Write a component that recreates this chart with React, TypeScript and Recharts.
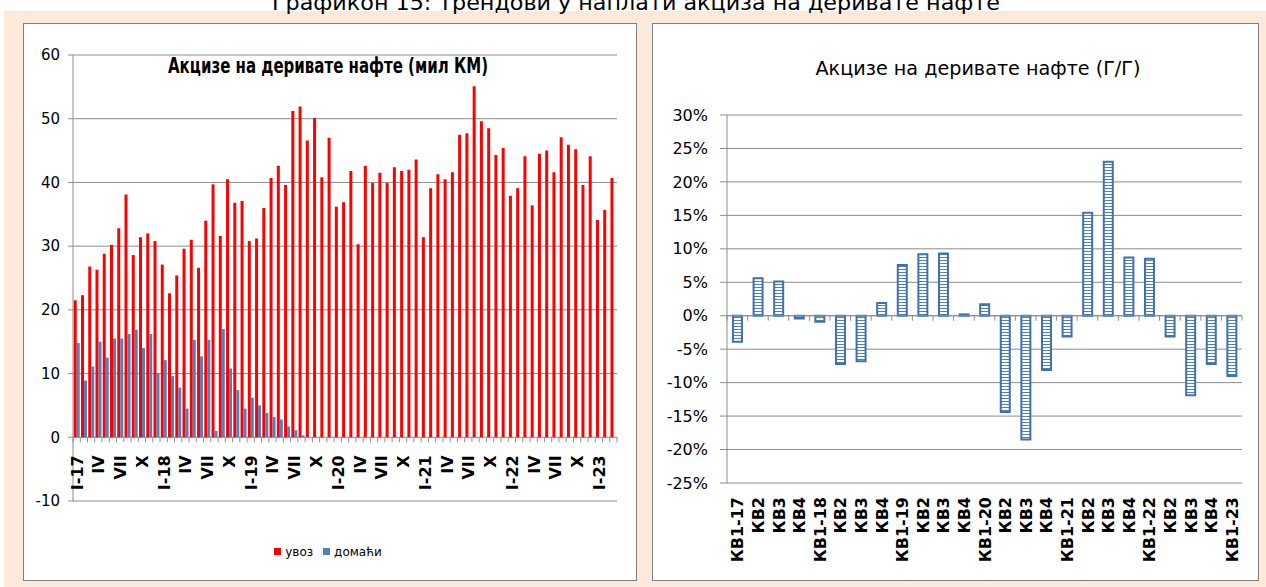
import React from 'react';
import { BarChart, Bar, XAxis, YAxis, CartesianGrid, Legend, ReferenceLine } from 'recharts';

// ---------- data ----------
const ROMAN = ['I', 'II', 'III', 'IV', 'V', 'VI', 'VII', 'VIII', 'IX', 'X', 'XI', 'XII'];
const YEARS = ['17', '18', '19', '20', '21', '22', '23'];
const monthKeys = YEARS.flatMap((y) => ROMAN.map((r) => `${r}-${y}`)).slice(0, 75);
const monthLabels = monthKeys.map((k) => (k.startsWith('I-') ? k : k.split('-')[0]));

// import excise (mil KM)
const uvoz = [
  21.5, 22.3, 26.8, 26.3, 28.8, 30.2, 32.8, 38.1, 28.6, 31.4, 32.0, 30.8,
  27.1, 22.6, 25.4, 29.6, 31.0, 26.6, 34.0, 39.7, 31.6, 40.5, 36.8, 37.1,
  30.8, 31.2, 36.0, 40.7, 42.6, 39.6, 51.2, 51.9, 46.6, 50.1, 40.8, 47.0,
  36.2, 36.9, 41.8, 30.3, 42.6, 39.9, 41.5, 39.9, 42.4, 41.8, 42.0, 43.6,
  31.4, 39.1, 41.3, 40.5, 41.6, 47.5, 47.7, 55.1, 49.6, 48.5, 44.3, 45.4,
  37.9, 39.1, 44.1, 36.4, 44.5, 45.0, 41.6, 47.1, 45.9, 45.2, 39.6, 44.1,
  34.1, 35.7, 40.7,
];
// domestic excise (mil KM)
const domaci = [
  14.8, 8.9, 11.1, 15.0, 12.5, 15.5, 15.5, 16.2, 16.9, 14.0, 16.2, 10.1,
  12.1, 9.6, 7.8, 4.5, 15.3, 12.7, 15.3, 1.0, 17.0, 10.8, 7.4, 4.5,
  6.2, 5.0, 3.8, 3.2, 2.8, 1.7, 1.1, 0.3, 0, 0, 0, 0,
  0, 0, 0, 0, 0, 0, 0, 0, 0, 0, 0, 0,
  0, 0, 0, 0, 0, 0, 0, 0, 0, 0, 0, 0,
  0, 0, 0, 0, 0, 0, 0, 0, 0, 0, 0, 0,
  0, 0, 0,
];
const leftTicks = [-10, 0, 10, 20, 30, 40, 50, 60];

const quarterKeys = YEARS.flatMap((y) => [1, 2, 3, 4].map((q) => `КВ${q}-${y}`)).slice(0, 25);
const quarterLabels = quarterKeys.map((k) => (k.startsWith('КВ1-') ? k : k.split('-')[0]));
// y/y change (%)
const yoy = [
  -3.9, 5.6, 5.1, -0.4,
  -0.9, -7.2, -6.8, 1.9,
  7.6, 9.2, 9.3, 0.2,
  1.7, -14.4, -18.5, -8.1,
  -3.1, 15.4, 23.0, 8.7,
  8.5, -3.1, -11.9, -7.2,
  -9.0,
];
const rightTicks = [-25, -20, -15, -10, -5, 0, 5, 10, 15, 20, 25, 30];

const leftData = monthKeys.map((m, i) => ({ m, uvoz: uvoz[i], domaci: domaci[i] }));
const rightData = quarterKeys.map((q, i) => ({ q, v: yoy[i] }));
const legendOrder = ['uvoz', 'domaci'];

// ---------- layout ----------
const GRID = '#8c8c8c';
const FONT = 'DejaVu Sans';

const L = { w: 612, h: 556, top: 31, right: 19, left: 14, yw: 35, xh: 79 };
const L_PW = L.w - L.left - L.yw - L.right;
const L_PH = L.h - L.top - L.xh;
const L_Y0 = L.top + (L_PH * 60) / 70;

const R = { w: 605, h: 556, top: 91, right: 16, left: 14, yw: 60, xh: 97 };
const R_PW = R.w - R.left - R.yw - R.right;
const R_PH = R.h - R.top - R.xh;
const R_Y0 = R.top + (R_PH * 30) / 55;

function LeftTick(props: any) {
  const { x, index } = props;
  const n = monthKeys.length;
  const bw = L_PW / n;
  const xl = x - bw / 2;
  return (
    <g>
      <line x1={xl} x2={xl} y1={L_Y0} y2={L_Y0 + 5} stroke={GRID} />
      {index === n - 1 && <line x1={xl + bw} x2={xl + bw} y1={L_Y0} y2={L_Y0 + 5} stroke={GRID} />}
      {index % 3 === 0 && (
        <text
          transform={`translate(${x + 6},${L_Y0 + 18}) rotate(-90)`}
          textAnchor="end"
          fontFamily={FONT}
          fontWeight="bold"
          fontSize={16}
          fill="#000"
        >
          {monthLabels[index]}
        </text>
      )}
    </g>
  );
}

function RightTick(props: any) {
  const { x, index } = props;
  const n = quarterKeys.length;
  const bw = R_PW / n;
  const xl = x - bw / 2;
  return (
    <g>
      <line x1={xl} x2={xl} y1={R_Y0} y2={R_Y0 + 5} stroke={GRID} />
      {index === n - 1 && <line x1={xl + bw} x2={xl + bw} y1={R_Y0} y2={R_Y0 + 5} stroke={GRID} />}
      <text
        transform={`translate(${x + 6},${R.h - R.xh + 14}) rotate(-90)`}
        textAnchor="end"
        fontFamily={FONT}
        fontWeight="bold"
        fontSize={16}
        fill="#000"
      >
        {quarterLabels[index]}
      </text>
    </g>
  );
}

export default function App() {
  return (
    <div style={{ position: 'absolute', left: 0, top: 0, width: 1266, height: 587, overflow: 'hidden', background: '#fff', fontFamily: FONT }}>
      {/* peach frame */}
      <div style={{ position: 'absolute', left: 4, top: 11, width: 1262, height: 576, background: '#fde9d9' }} />
      {/* panels */}
      <div style={{ position: 'absolute', left: 23, top: 23, width: 612, height: 556, border: '1px solid #7f7f7f', background: '#fff' }} />
      <div style={{ position: 'absolute', left: 652, top: 23, width: 605, height: 556, border: '1px solid #7f7f7f', background: '#fff' }} />

      {/* left chart */}
      <div style={{ position: 'absolute', left: 24, top: 24, width: L.w, height: L.h }}>
        <BarChart
          width={L.w}
          height={L.h}
          data={leftData}
          margin={{ top: L.top, right: L.right, left: L.left, bottom: 0 }}
          barCategoryGap="10%"
          barGap={0}
        >
          <CartesianGrid vertical={false} stroke={GRID} />
          <XAxis
            dataKey="m"
            interval={0}
            height={L.xh}
            axisLine={false}
            tickLine={false}
            tick={(p: any) => <LeftTick {...p} />}
          />
          <YAxis
            domain={[-10, 60]}
            ticks={leftTicks}
            width={L.yw}
            axisLine={{ stroke: GRID }}
            tickLine={{ stroke: GRID }}
            tickSize={5}
            tickMargin={8}
            tick={{ fill: '#000', fontSize: 15, fontFamily: FONT }}
          />
          <Bar dataKey="uvoz" name="увоз" fill="#ff0000" isAnimationActive={false} />
          <Bar dataKey="domaci" name="домаћи" fill="#4f81bd" isAnimationActive={false} />
          <Legend
            layout="horizontal"
            verticalAlign="middle"
            align="center"
            iconType="square"
            iconSize={7}
            itemSorter={(item: any) => legendOrder.indexOf(item.dataKey)}
            wrapperStyle={{ top: 517, left: 3, width: L.w }}
            formatter={(value: any) => (
              <span style={{ color: '#000', fontSize: 12, fontFamily: FONT }}>{value}</span>
            )}
          />
        </BarChart>
      </div>

      {/* right chart */}
      <div style={{ position: 'absolute', left: 653, top: 24, width: R.w, height: R.h }}>
        <BarChart
          width={R.w}
          height={R.h}
          data={rightData}
          margin={{ top: R.top, right: R.right, left: R.left, bottom: 0 }}
          barCategoryGap="29%"
        >
          <CartesianGrid vertical={false} stroke={GRID} />
          <XAxis
            dataKey="q"
            interval={0}
            height={R.xh}
            axisLine={false}
            tickLine={false}
            tick={(p: any) => <RightTick {...p} />}
          />
          <YAxis
            domain={[-25, 30]}
            ticks={rightTicks}
            width={R.yw}
            axisLine={{ stroke: GRID }}
            tickLine={{ stroke: GRID }}
            tickSize={7}
            tickMargin={12}
            tickFormatter={(v: number) => `${v}%`}
            tick={{ fill: '#000', fontSize: 16, fontFamily: FONT }}
          />
          <ReferenceLine y={0} stroke={GRID} />
          <Bar dataKey="v" fill="url(#hstripe)" stroke="#3f70b0" strokeWidth={2} isAnimationActive={false} />
        </BarChart>
      </div>

      {/* titles + pattern defs */}
      <svg width={1266} height={587} style={{ position: 'absolute', left: 0, top: 0, pointerEvents: 'none' }}>
        <defs>
          <pattern id="hstripe" patternUnits="userSpaceOnUse" width="4" height="3">
            <rect width="4" height="3" fill="#ffffff" />
            <rect y="2" width="4" height="1" fill="#4f81bd" />
          </pattern>
        </defs>
        <text x={636} y={10} textAnchor="middle" fontFamily={FONT} fontSize={21} fill="#000" textLength={728} lengthAdjust="spacingAndGlyphs">
          Графикон 15: Трендови у наплати акциза на деривате нафте
        </text>
        <text x={328} y={73} textAnchor="middle" fontFamily={FONT} fontWeight="bold" fontSize={21} fill="#000" textLength={320} lengthAdjust="spacingAndGlyphs">
          Акцизе на деривате нафте (мил КМ)
        </text>
        <text x={978} y={75} textAnchor="middle" fontFamily={FONT} fontSize={19} fill="#000" textLength={325} lengthAdjust="spacingAndGlyphs">
          Акцизе на деривате нафте (Г/Г)
        </text>
      </svg>
    </div>
  );
}
